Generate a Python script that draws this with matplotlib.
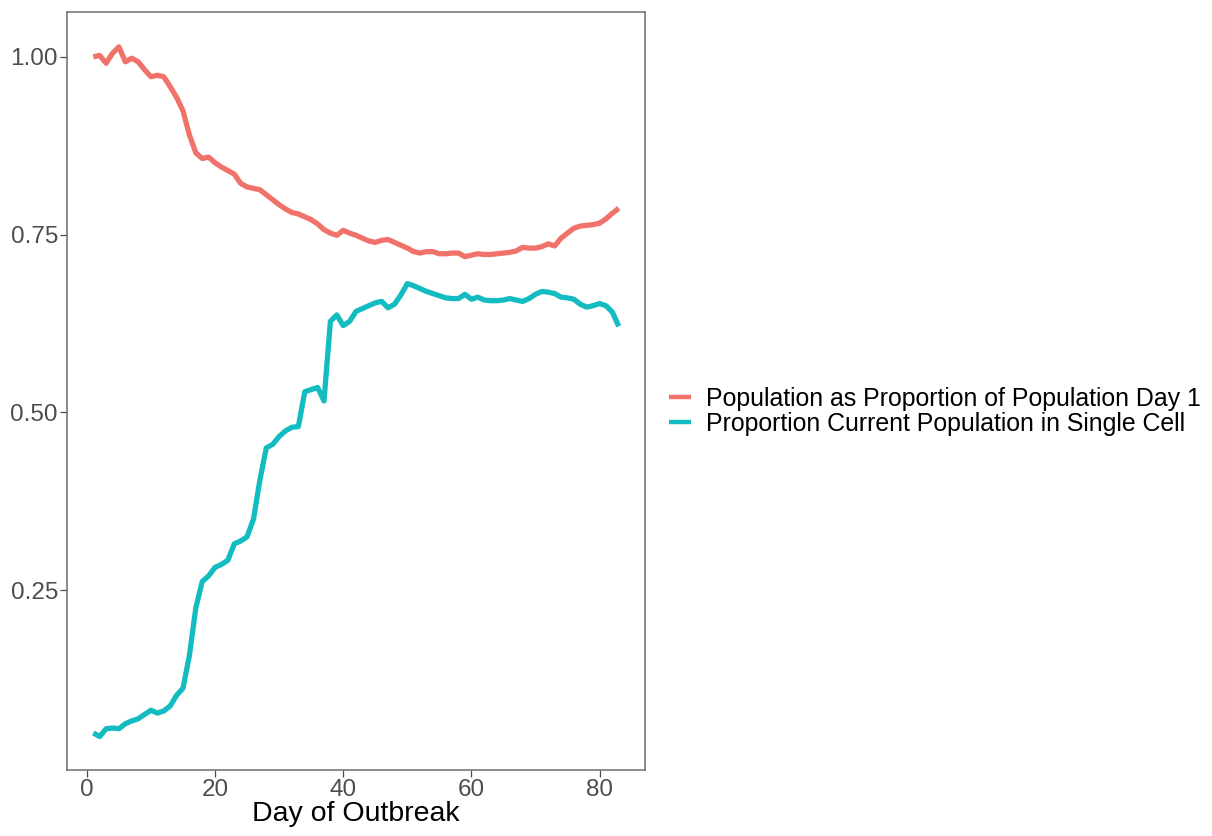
import numpy as np
import matplotlib
matplotlib.use("Agg")
import matplotlib.pyplot as plt

plt.rcParams['font.family'] = ['Liberation Sans', 'DejaVu Sans']

days = list(range(1, 84))

pop_prop_day1 = [
    1.000, 1.002, 0.991, 1.005, 1.014, 0.993, 0.998, 0.993, 0.982, 0.972,
    0.974, 0.972, 0.958, 0.943, 0.924, 0.890, 0.865, 0.857, 0.859, 0.851,
    0.845, 0.840, 0.835, 0.822, 0.817, 0.815, 0.813, 0.806, 0.799, 0.792,
    0.786, 0.781, 0.779, 0.775, 0.771, 0.765, 0.757, 0.752, 0.749, 0.756,
    0.752, 0.749, 0.745, 0.741, 0.739, 0.742, 0.743, 0.739, 0.735, 0.731,
    0.726, 0.724, 0.726, 0.726, 0.723, 0.723, 0.724, 0.724, 0.719, 0.721,
    0.723, 0.722, 0.722, 0.723, 0.724, 0.725, 0.727, 0.732, 0.731, 0.731,
    0.733, 0.737, 0.734, 0.745, 0.752, 0.759, 0.762, 0.763, 0.764, 0.766,
    0.772, 0.780, 0.787,
]

single_cell_prop = [
    0.049, 0.044, 0.055, 0.056, 0.055, 0.062, 0.066, 0.069, 0.075, 0.081,
    0.077, 0.080, 0.087, 0.102, 0.112, 0.158, 0.225, 0.262, 0.270, 0.282,
    0.286, 0.292, 0.315, 0.319, 0.325, 0.350, 0.405, 0.450, 0.455, 0.466,
    0.474, 0.479, 0.480, 0.529, 0.532, 0.535, 0.516, 0.628, 0.637, 0.622,
    0.628, 0.642, 0.646, 0.650, 0.654, 0.656, 0.647, 0.652, 0.665, 0.681,
    0.678, 0.674, 0.670, 0.667, 0.664, 0.661, 0.660, 0.660, 0.666, 0.659,
    0.662, 0.658, 0.657, 0.657, 0.658, 0.660, 0.658, 0.656, 0.660, 0.666,
    0.670, 0.669, 0.667, 0.662, 0.661, 0.659, 0.652, 0.648, 0.650, 0.653,
    0.650, 0.641, 0.621,
]

labels = ["Population as Proportion of Population Day 1",
          "Proportion Current Population in Single Cell"]
colors = ["#F0726A", "#13BCC0"]

fig = plt.figure(figsize=(12.12, 8.36), dpi=100)
ax = fig.add_axes([0.0553, 0.079, 0.4769, 0.9066])

ax.plot(days, pop_prop_day1, color=colors[0], lw=3.8, label=labels[0],
        solid_capstyle="butt", solid_joinstyle="round")
ax.plot(days, single_cell_prop, color=colors[1], lw=3.8, label=labels[1],
        solid_capstyle="butt", solid_joinstyle="round")

ax.set_xlim(-3.1, 87.1)
ax.set_ylim(-0.003, 1.063)
ax.set_xticks([0, 20, 40, 60, 80])
ax.set_yticks([0.25, 0.50, 0.75, 1.00])
ax.set_yticklabels(["0.25", "0.50", "0.75", "1.00"])
ax.tick_params(labelsize=17.5, colors="#4D4D4D", length=5, width=0.9, pad=1.5)
for s in ax.spines.values():
    s.set_color("#6E6E6E")
    s.set_linewidth(1.1)

ax.set_xlabel("Day of Outbreak", fontsize=20.5, color="black", labelpad=0)

leg = fig.legend(loc="center left", bbox_to_anchor=(0.5335, 0.508),
                 frameon=False, fontsize=17.9, handlelength=0.88,
                 handletextpad=0.6, labelspacing=0.05)
for line in leg.get_lines():
    line.set_linewidth(3.2)

fig.savefig("out.png", dpi=100)
